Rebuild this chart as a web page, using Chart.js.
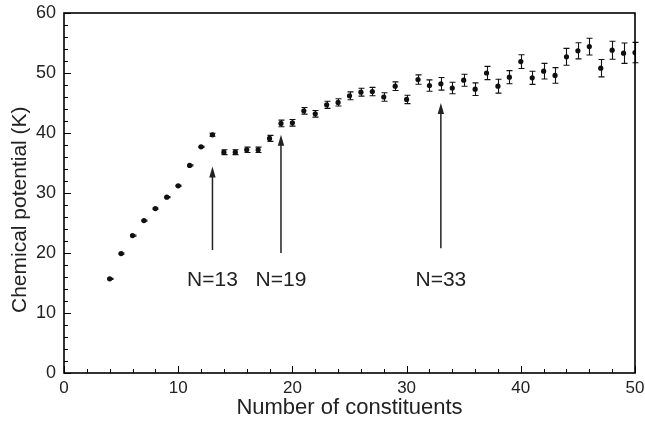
<!DOCTYPE html>
<html>
<head>
<meta charset="utf-8">
<script src="https://cdn.jsdelivr.net/npm/chart.js@4.4.1/dist/chart.umd.min.js"></script>
<style>
  html, body { margin: 0; padding: 0; background: #fff; }
  #wrap { width: 645px; height: 421px; }
</style>
</head>
<body>
<div id="wrap"><canvas id="chart" width="645" height="421"></canvas></div>
<script>
// cluster size N
const nValues = [4, 5, 6, 7, 8, 9, 10, 11, 12, 13, 14, 15, 16, 17, 18, 19, 20, 21, 22, 23, 24, 25, 26,
  27, 28, 29, 30, 31, 32, 33, 34, 35, 36, 37, 38, 39, 40, 41, 42, 43, 44, 45, 46, 47, 48, 49, 50];
// chemical potential (K)
const muValues = [15.7, 19.9, 22.9, 25.4, 27.4, 29.3, 31.2, 34.6, 37.7, 39.7, 36.8, 36.8, 37.2, 37.2,
  39.1, 41.6, 41.7, 43.7, 43.2, 44.7, 45.1, 46.2, 46.8, 46.9, 46.0, 47.8, 45.6, 48.9, 47.9, 48.2,
  47.5, 48.8, 47.3, 50.0, 47.8, 49.3, 51.9, 49.2, 50.3, 49.6, 52.7, 53.7, 54.4, 50.8, 53.8, 53.3, 53.4];
// error bars (+/-)
const muErrors = [0.1, 0.1, 0.1, 0.1, 0.1, 0.1, 0.1, 0.1, 0.1, 0.25, 0.4, 0.4, 0.45, 0.45,
  0.5, 0.55, 0.55, 0.55, 0.55, 0.6, 0.6, 0.65, 0.65, 0.7, 0.7, 0.72, 0.7, 0.78, 0.95, 1.05,
  0.95, 1.0, 1.05, 1.1, 1.15, 1.1, 1.15, 1.1, 1.3, 1.3, 1.4, 1.35, 1.4, 1.45, 1.5, 1.7, 1.7];

// arrows marking magic numbers
const arrowLabels = ["N=13", "N=19", "N=33"];
const arrowX = [13, 19, 33];
const arrowFrom = [20.5, 20.0, 20.8];
const arrowTo = [34.4, 39.7, 45.0];
const labelY = 15.4;

const yTitle = "Chemical potential (K)";

const FONT = "'Liberation Sans', Arial, Helvetica, sans-serif";

const points = nValues.map((n, i) => ({ x: n, y: muValues[i] }));

// error bars, frame, inward ticks, arrows, y title
const extras = {
  id: "extras",
  afterDatasetsDraw(chart) {
    const ctx = chart.ctx;
    const xs = chart.scales.x, ys = chart.scales.y;
    const area = chart.chartArea;
    ctx.save();

    // error bars
    ctx.strokeStyle = "#111";
    ctx.lineWidth = 1.1;
    nValues.forEach((n, i) => {
      const px = Math.round(xs.getPixelForValue(n)) + 0.5;
      const top = ys.getPixelForValue(muValues[i] + muErrors[i]);
      const bot = ys.getPixelForValue(muValues[i] - muErrors[i]);
      ctx.beginPath();
      ctx.moveTo(px, top); ctx.lineTo(px, bot);
      ctx.moveTo(px - 3, top); ctx.lineTo(px + 3, top);
      ctx.moveTo(px - 3, bot); ctx.lineTo(px + 3, bot);
      ctx.stroke();
    });

    // frame
    ctx.strokeStyle = "#000";
    ctx.lineWidth = 1.6;
    ctx.strokeRect(area.left, area.top, area.right - area.left, area.bottom - area.top);

    // inward ticks
    ctx.lineWidth = 1;
    for (let v = 0; v <= 50; v += 2) {
      const px = Math.round(xs.getPixelForValue(v)) + 0.5;
      const len = v % 10 === 0 ? 7 : 4;
      ctx.beginPath();
      ctx.moveTo(px, area.bottom); ctx.lineTo(px, area.bottom - len);
      ctx.stroke();
    }
    for (let v = 0; v <= 60; v += 2) {
      const py = Math.round(ys.getPixelForValue(v)) + 0.5;
      const len = v % 10 === 0 ? 7 : 4;
      ctx.beginPath();
      ctx.moveTo(area.left, py); ctx.lineTo(area.left + len, py);
      ctx.stroke();
    }

    // arrows + labels
    ctx.strokeStyle = "#222";
    ctx.fillStyle = "#222";
    ctx.lineWidth = 1.5;
    ctx.font = "21px " + FONT;
    ctx.textAlign = "center";
    ctx.textBaseline = "middle";
    arrowX.forEach((n, i) => {
      const px = xs.getPixelForValue(n);
      const y0 = ys.getPixelForValue(arrowFrom[i]);
      const y1 = ys.getPixelForValue(arrowTo[i]);
      ctx.beginPath();
      ctx.moveTo(px, y0); ctx.lineTo(px, y1 + 8);
      ctx.stroke();
      ctx.beginPath();
      ctx.moveTo(px, y1);
      ctx.lineTo(px - 3.2, y1 + 11);
      ctx.lineTo(px + 3.2, y1 + 11);
      ctx.closePath();
      ctx.fill();
      ctx.fillText(arrowLabels[i], px, ys.getPixelForValue(labelY));
    });

    // y axis title (sits a bit below centre in the original)
    ctx.fillStyle = "#222";
    ctx.font = "21px " + FONT;
    ctx.translate(20, ys.getPixelForValue(10));
    ctx.rotate(-Math.PI / 2);
    ctx.textAlign = "left";
    ctx.textBaseline = "middle";
    ctx.fillText(yTitle, 0, 0);

    ctx.restore();
  }
};

new Chart(document.getElementById("chart"), {
  type: "scatter",
  data: {
    datasets: [{
      data: points,
      backgroundColor: "#111",
      borderColor: "#111",
      pointRadius: 2.6,
      borderWidth: 0,
      showLine: false
    }]
  },
  options: {
    responsive: false,
    animation: false,
    devicePixelRatio: 1,
    layout: { padding: { top: 13, right: 10, left: 0, bottom: 0 } },
    plugins: {
      legend: { display: false },
      tooltip: { enabled: false }
    },
    scales: {
      x: {
        type: "linear",
        min: 0,
        max: 50,
        grid: { display: false, drawTicks: false },
        border: { display: false },
        ticks: { stepSize: 10, color: "#222", padding: 5, font: { family: FONT, size: 17 } },
        title: {
          display: true,
          text: "Number of constituents",
          color: "#222",
          padding: { top: 0, bottom: 0 },
          font: { family: FONT, size: 22 }
        },
        afterFit(scale) {
          scale.height = 48;
          scale.paddingLeft = 0;
          scale.paddingRight = 0;
        }
      },
      y: {
        type: "linear",
        min: 0,
        max: 60,
        grid: { display: false, drawTicks: false },
        border: { display: false },
        ticks: { stepSize: 10, color: "#222", padding: 8, font: { family: FONT, size: 18 } },
        afterFit(scale) {
          scale.width = 64;
          scale.paddingTop = 0;
          scale.paddingBottom = 0;
        }
      }
    }
  },
  plugins: [extras]
});
</script>
</body>
</html>
